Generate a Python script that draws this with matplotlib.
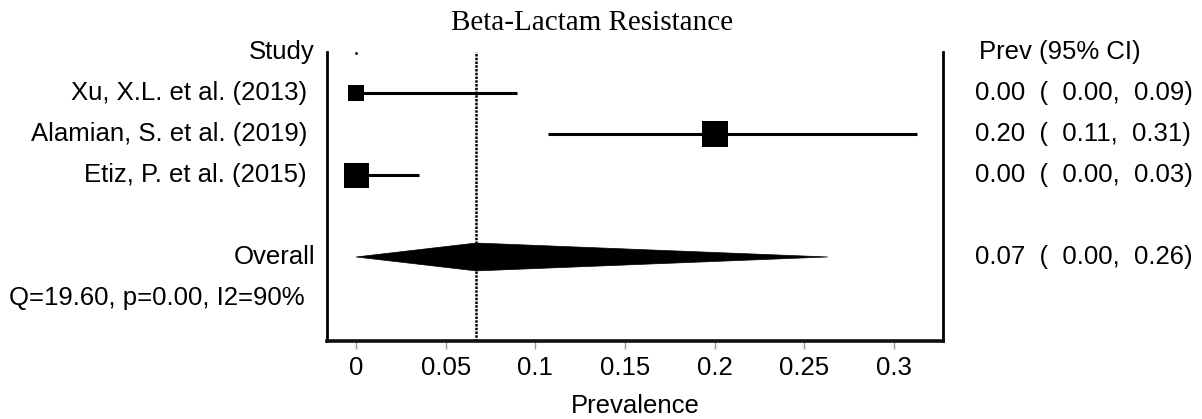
import matplotlib
matplotlib.use("Agg")
import matplotlib.pyplot as plt
from matplotlib.patches import Polygon
from matplotlib.transforms import blended_transform_factory

# data
studies = ["Xu, X.L. et al. (2013)", "Alamian, S. et al. (2019)", "Etiz, P. et al. (2015)"]
prev = [0.00, 0.20, 0.00]
ci_low = [0.00, 0.107, 0.00]
ci_high = [0.09, 0.313, 0.035]
box_size = [12, 19, 18]          # marker size ~ study weight
ci_text = ["0.00  (  0.00,  0.09)", "0.20  (  0.11,  0.31)", "0.00  (  0.00,  0.03)"]
pooled = 0.067
pooled_low, pooled_high = 0.00, 0.263
pooled_text = "0.07  (  0.00,  0.26)"
het_text = "Q=19.60, p=0.00, I2=90%"
xticks = [0, 0.05, 0.1, 0.15, 0.2, 0.25, 0.3]

W, H = 1202, 419
fig = plt.figure(figsize=(W/100, H/100), dpi=100)
ax = fig.add_axes([327/W, (H-341)/H, (943-327)/W, (341-52)/H])

sans = "Liberation Sans"
fs = 18.5
rows = [1, 2, 3]
y_overall = 5
y_het = 6

ax.set_xlim(-0.0162, 0.3273)
ax.set_ylim(7.05, 0)

# studies
for r, p, lo, hi, ms in zip(rows, prev, ci_low, ci_high, box_size):
    ax.plot([lo, hi], [r, r], color="black", lw=2.2, solid_capstyle="butt")
    ax.plot(p, r, marker="s", color="black", ms=ms, mew=0)

# pooled diamond
h = 0.34
ax.add_patch(Polygon([(pooled_low, y_overall), (pooled, y_overall - h),
                      (pooled_high, y_overall), (pooled, y_overall + h)],
                     closed=True, facecolor="black", edgecolor="black", lw=0.5))
ax.axvline(pooled, color="black", lw=1.8, ls=(0, (1, 0.5)))
ax.plot(0, 0.02, marker=".", color="black", ms=2)

# frame
ax.spines["top"].set_visible(False)
ax.spines["left"].set_linewidth(2)
ax.spines["right"].set_linewidth(2)
ax.spines["bottom"].set_linewidth(2.6)
ax.spines["bottom"].set_color("#111111")
ax.set_yticks([])
ax.set_xticks(xticks)
ax.set_xticklabels(["0", "0.05", "0.1", "0.15", "0.2", "0.25", "0.3"],
                   fontsize=fs, family=sans)
ax.tick_params(axis="x", direction="out", length=6, width=1, color="#999999", pad=5)
ax.set_xlabel("Prevalence", fontsize=fs, family=sans, labelpad=10)

# side columns
tr = blended_transform_factory(fig.transFigure, ax.transData)
ax.text(315/W, 0, "Study", transform=tr, ha="right", va="center", fontsize=fs, family=sans)
for r, s in zip(rows, studies):
    ax.text(307/W, r, s, transform=tr, ha="right", va="center", fontsize=fs, family=sans)
ax.text(315/W, y_overall, "Overall", transform=tr, ha="right", va="center", fontsize=fs, family=sans)
ax.text(305/W, y_het, het_text, transform=tr, ha="right", va="center", fontsize=fs, family=sans)

ax.text(979/W, 0, "Prev (95% CI)", transform=tr, ha="left", va="center", fontsize=fs, family=sans)
for r, t in zip(rows, ci_text):
    ax.text(975/W, r, t, transform=tr, ha="left", va="center", fontsize=fs, family=sans)
ax.text(975/W, y_overall, pooled_text, transform=tr, ha="left", va="center", fontsize=fs, family=sans)

fig.text(592/W, 1 - 23/H, "Beta-Lactam Resistance", ha="center", va="center",
         fontsize=21, family="Liberation Serif")

fig.savefig("out.png", dpi=100)
